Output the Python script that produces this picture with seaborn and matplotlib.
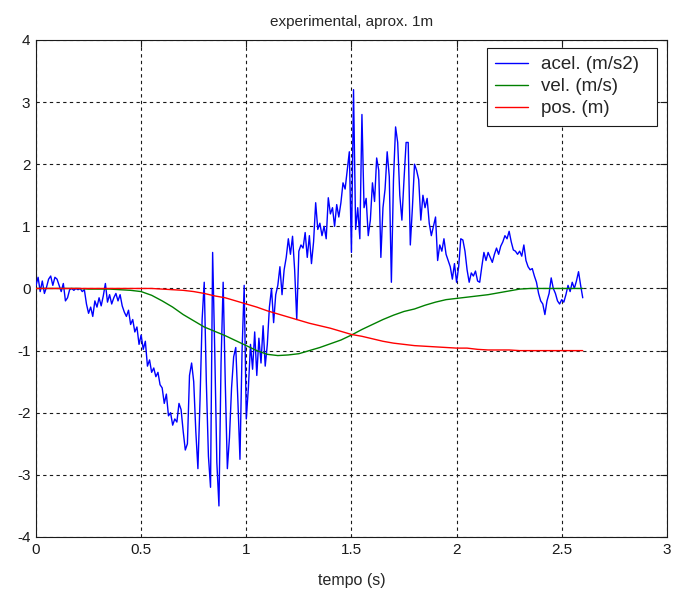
import numpy as np
import pandas as pd
import seaborn as sns
import matplotlib
matplotlib.use("Agg")
import matplotlib.pyplot as plt

acel = [
    0.05, 0.18, -0.05, 0.12, -0.08, 0.02, 0.15, 0.2, 0.05, 0.18,
    0.15, 0.05, -0.05, 0.08, -0.2, -0.15, -0.02, 0.0, -0.03, 0.0,
    -0.02, 0.0, -0.05, -0.02, -0.25, -0.4, -0.3, -0.45, -0.2, -0.3,
    -0.15, -0.28, -0.12, 0.08, -0.22, -0.1, -0.25, -0.15, -0.08, -0.2,
    -0.1, -0.28, -0.38, -0.45, -0.35, -0.58, -0.5, -0.7, -0.62, -0.9,
    -0.75, -0.98, -0.85, -1.25, -1.15, -1.35, -1.28, -1.42, -1.35, -1.55,
    -1.6, -1.85, -1.7, -2.05, -2.0, -2.2, -2.1, -2.15, -1.85, -1.95,
    -2.3, -2.6, -2.5, -1.4, -1.2, -1.5, -2.3, -2.9, -1.8, -0.5,
    0.1, -1.5, -2.7, -3.2, 0.58, -1.0, -2.8, -3.5, -1.2, 0.1,
    -1.5, -2.9, -2.4, -1.6, -1.1, -0.95, -1.8, -2.75, -1.0, 0.05,
    -2.1, -1.6, -0.9, -1.3, -0.7, -1.4, -0.8, -1.2, -0.6, -1.25,
    -0.9, -0.3, 0.0, -0.55, -0.1, 0.05, 0.35, -0.1, 0.3, 0.5,
    0.8, 0.55, 0.84, 0.3, -0.5, 0.6, 0.7, 0.65, 0.9, 0.5,
    0.85, 0.4, 0.75, 1.38, 0.95, 1.05, 0.85, 1.0, 0.8, 1.46,
    1.2, 1.3, 1.0, 1.35, 1.15, 1.38, 1.7, 1.6, 1.9, 2.2,
    0.58, 3.2, 0.95, 1.3, 0.8, 2.8, 1.3, 1.45, 0.85, 1.1,
    1.7, 1.4, 2.1, 1.9, 0.5, 1.3, 1.6, 2.2, 1.8, 0.1,
    1.75, 2.6, 2.35, 1.5, 1.1, 1.75, 2.35, 2.35, 0.7, 1.3,
    2.0, 1.9, 1.75, 1.1, 1.5, 1.3, 1.45, 1.05, 0.85, 1.0,
    1.15, 0.45, 0.7, 0.6, 0.8, 0.55, 0.45, 0.35, 0.15, 0.4,
    0.1, 0.35, 0.8, 0.78, 0.6, 0.3, 0.1, 0.25, 0.2, 0.28,
    0.12, 0.1, 0.35, 0.58, 0.45, 0.58, 0.5, 0.42, 0.55, 0.65,
    0.55, 0.68, 0.75, 0.85, 0.8, 0.92, 0.75, 0.62, 0.6, 0.55,
    0.6, 0.52, 0.7, 0.45, 0.35, 0.3, 0.32, 0.2, 0.1, -0.08,
    -0.2, -0.25, -0.42, -0.2, -0.08, 0.17, 0.0, -0.08, -0.2, -0.25,
    -0.18, -0.22, -0.1, 0.05, -0.05, 0.1, 0.0, 0.12, 0.27, 0.05,
    -0.15,
]
t_acel = [round(i * 0.01, 2) for i in range(len(acel))]

# velocity and position, read every 0.05 s
t_smooth = [round(i * 0.05, 2) for i in range(53)]
vel = [
    0.0, 0.0, 0.0, 0.0, 0.0, -0.01, -0.01, -0.01, -0.02, -0.03,
    -0.05, -0.11, -0.2, -0.3, -0.42, -0.52, -0.62, -0.69, -0.76, -0.84,
    -0.92, -1.0, -1.06, -1.08, -1.07, -1.05, -1.0, -0.95, -0.89, -0.83,
    -0.75, -0.66, -0.58, -0.5, -0.43, -0.37, -0.33, -0.27, -0.22, -0.18,
    -0.16, -0.14, -0.12, -0.1, -0.07, -0.04, -0.01, 0.0, 0.0, 0.0,
    0.0, 0.0, 0.0,
]
pos = [
    0.0, 0.0, 0.0, 0.0, 0.0, 0.0, 0.0, 0.0, 0.0, 0.0,
    0.0, 0.0, -0.01, -0.02, -0.03, -0.05, -0.08, -0.12, -0.15, -0.2,
    -0.25, -0.3, -0.36, -0.41, -0.46, -0.51, -0.56, -0.6, -0.64, -0.69,
    -0.74, -0.77, -0.81, -0.85, -0.88, -0.9, -0.92, -0.93, -0.94, -0.95,
    -0.96, -0.96, -0.98, -0.99, -0.99, -0.99, -1.0, -1.0, -1.0, -1.0,
    -1.0, -1.0, -1.0,
]

xticks = [0, 0.5, 1, 1.5, 2, 2.5, 3]
xtick_labels = ["0", "0.5", "1", "1.5", "2", "2.5", "3"]
yticks = [-4, -3, -2, -1, 0, 1, 2, 3, 4]
ytick_labels = ["-4", "-3", "-2", "-1", "0", "1", "2", "3", "4"]

sns.set_theme(style="white")
plt.rcParams["font.family"] = ["Liberation Sans", "DejaVu Sans"]

fig = plt.figure(figsize=(6.74, 5.96), dpi=100)
ax = fig.add_axes([0.0534, 0.099, 0.936, 0.834])

df_a = pd.DataFrame({"t": t_acel, "v": acel})
df_s = pd.DataFrame({"t": t_smooth, "vel": vel, "pos": pos})

sns.lineplot(data=df_a, x="t", y="v", ax=ax, color="#0000ff", lw=1.0,
             label="acel. (m/s2)", sort=False, zorder=3)
sns.lineplot(data=df_s, x="t", y="vel", ax=ax, color="#008000", lw=1.0,
             label="vel. (m/s)", sort=False, zorder=3)
sns.lineplot(data=df_s, x="t", y="pos", ax=ax, color="#ff0000", lw=1.0,
             label="pos. (m)", sort=False, zorder=3)

ax.set_xlim(0, 3)
ax.set_ylim(-4, 4)
ax.set_xticks(xticks, xtick_labels)
ax.set_yticks(yticks, ytick_labels)
ax.grid(True, color="k", linestyle=(0, (3, 3)), linewidth=0.8)
ax.tick_params(direction="in", top=True, right=True, length=5, width=0.8,
               colors="k", labelsize=11, pad=4)
for s in ax.spines.values():
    s.set_color("k")
    s.set_linewidth(0.8)

ax.set_title("experimental, aprox. 1m", fontsize=11, pad=10)
ax.set_xlabel("tempo (s)", fontsize=11.5, labelpad=12)
ax.set_ylabel("")

# legend box stretched to the width MATLAB gives it
leg = ax.legend(loc="upper left", bbox_to_anchor=(0.7147, 0.9839, 0.2693, 0.0),
                mode="expand", fancybox=False, edgecolor="k",
                framealpha=1, fontsize=13.5, borderaxespad=0.0,
                handlelength=1.75, handletextpad=0.7, labelspacing=0.25,
                borderpad=0.45)
leg.get_frame().set_linewidth(0.8)

fig.savefig("out.png", dpi=100, facecolor="white")
